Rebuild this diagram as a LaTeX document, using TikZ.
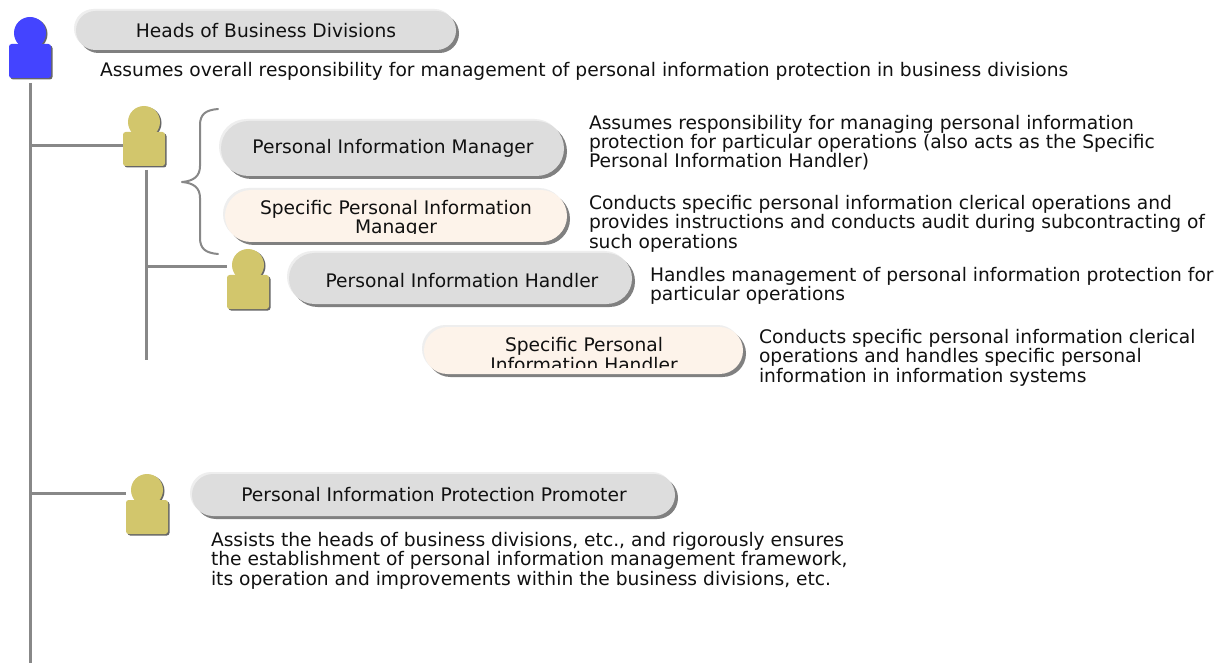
\documentclass[tikz,border=0pt]{standalone}
\usepackage{fontspec}
\setmainfont{DejaVu Sans}
\definecolor{linegray}{HTML}{888888}
\definecolor{pillgray}{HTML}{DDDDDD}
\definecolor{pillcream}{HTML}{FDF3EA}
\definecolor{pilledge}{HTML}{EEEEEE}
\definecolor{pillshade}{HTML}{808080}
\definecolor{txt}{HTML}{111111}
\definecolor{bluep}{HTML}{4444FF}
\definecolor{goldp}{HTML}{D2C66C}
\definecolor{shadep}{HTML}{666666}
\tikzset{
  x=0.75pt,y=-0.75pt,
  conn/.style={draw=linegray,line width=2.25pt},
  bracepath/.style={draw=linegray,line width=1.5pt,line join=round,line cap=round},
  lbl/.style={font=\fontsize{14}{14.4}\selectfont,text=txt,anchor=north west,inner sep=0pt,outer sep=0pt,align=left},
  ctr/.style={font=\fontsize{14}{14.4}\selectfont,text=txt,inner sep=0pt,outer sep=0pt,align=center},
}
% x1,y1,x2,y2,fill
\newcommand{\pillshape}[5]{%
  \pgfmathsetmacro\pillr{(#4-#2-5)/2*0.75}%
  \fill[pilledge,rounded corners=\pillr pt] (#1,#2) rectangle (#3-5,#4-5);
  \fill[pillshade,rounded corners=\pillr pt] (#1+5,#2+5) rectangle (#3,#4);
  \fill[#5,rounded corners=\pillr pt] (#1+2,#2+2) rectangle (#3-3,#4-3);
}
% x,y of body top-left, head centre x, head cy, colour, name
\newcommand{\person}[6]{%
  \fill[shadep] (#3+1.5,#4+1) circle[radius=16];
  \fill[shadep,rounded corners=2pt] (#1+1.5,#2+1.5) rectangle (#1+43.5,#2+35.5);
  \fill[#5] (#3,#4) circle[radius=16];
  \fill[#5,rounded corners=2pt] (#1,#2) rectangle (#1+42,#2+34);
}
\begin{document}
\begin{tikzpicture}
\useasboundingbox (0,0) rectangle (1229,663);
\fill[white] (0,0) rectangle (1229,663);
% persons
\person{9}{44}{30}{33}{bluep}{pa}
\person{123}{132}{144}{122}{goldp}{pb}
\person{227}{275}{248}{265}{goldp}{pc}
\person{126}{500}{147}{490}{goldp}{pd}
% connectors
\coordinate (top) at (30,83);
\coordinate (bottom) at (30,663);
\coordinate (subtop) at (146.5,170);
\coordinate (subend) at (146.5,360);
\coordinate (j1) at (30,146);
\coordinate (j2) at (146.5,267);
\coordinate (j3) at (30,493);
\coordinate (e1) at (123,146);
\coordinate (e2) at (227,267);
\coordinate (e3) at (126,493);
\draw[conn] (top) -- (bottom);
\draw[conn] (j1) -- (e1);
\draw[conn] (subtop) -- (subend);
\draw[conn] (j2) -- (e2);
\draw[conn] (j3) -- (e3);
\draw[bracepath] (218,109) .. controls (206,110) and (200,114) .. (200,125) -- (200,166) .. controls (200,176) and (194,181) .. (182,182) .. controls (194,183) and (200,188) .. (200,198) -- (200,238) .. controls (200,249) and (206,253) .. (218,254);
% pills
\pillshape{74}{9}{459}{53}{pillgray}
\node[ctr] (n1) at (266,31) {Heads of Business Divisions};
\pillshape{219}{119}{567}{179}{pillgray}
\node[ctr] (n2) at (393,148.5) {Personal Information Manager};
\pillshape{223}{188}{570}{245}{pillcream}
\begin{scope}
\clip (225,190) rectangle (567,233.5);
\node[ctr] (n3) at (396,218.5) {Specific Personal Information\\Manager};
\end{scope}
\pillshape{287}{251}{635}{307}{pillgray}
\node[ctr] (n4) at (462,280.5) {Personal Information Handler};
\pillshape{422}{325}{746}{377}{pillcream}
\begin{scope}
\clip (424,327) rectangle (743,367.5);
\node[ctr] (n5) at (584,354.5) {Specific Personal\\Information Handler};
\end{scope}
\pillshape{190}{472}{678}{519}{pillgray}
\node[ctr] (n6) at (434,495) {Personal Information Protection Promoter};
% text
\node[lbl] (t1) at (100,62) {Assumes overall responsibility for management of personal information protection in business divisions};
\node[lbl] (t2) at (589,115) {Assumes responsibility for managing personal information\\protection for particular operations (also acts as the Specific\\Personal Information Handler)};
\node[lbl] (t3) at (589,195.5) {Conducts specific personal information clerical operations and\\provides instructions and conducts audit during subcontracting of\\such operations};
\node[lbl] (t4) at (650,267) {Handles management of personal information protection for\\particular operations};
\node[lbl] (t5) at (759,329.5) {Conducts specific personal information clerical\\operations and handles specific personal\\information in information systems};
\node[lbl] (t6) at (211,532.5) {Assists the heads of business divisions, etc., and rigorously ensures\\the establishment of personal information management framework,\\its operation and improvements within the business divisions, etc.};
\end{tikzpicture}
\end{document}
